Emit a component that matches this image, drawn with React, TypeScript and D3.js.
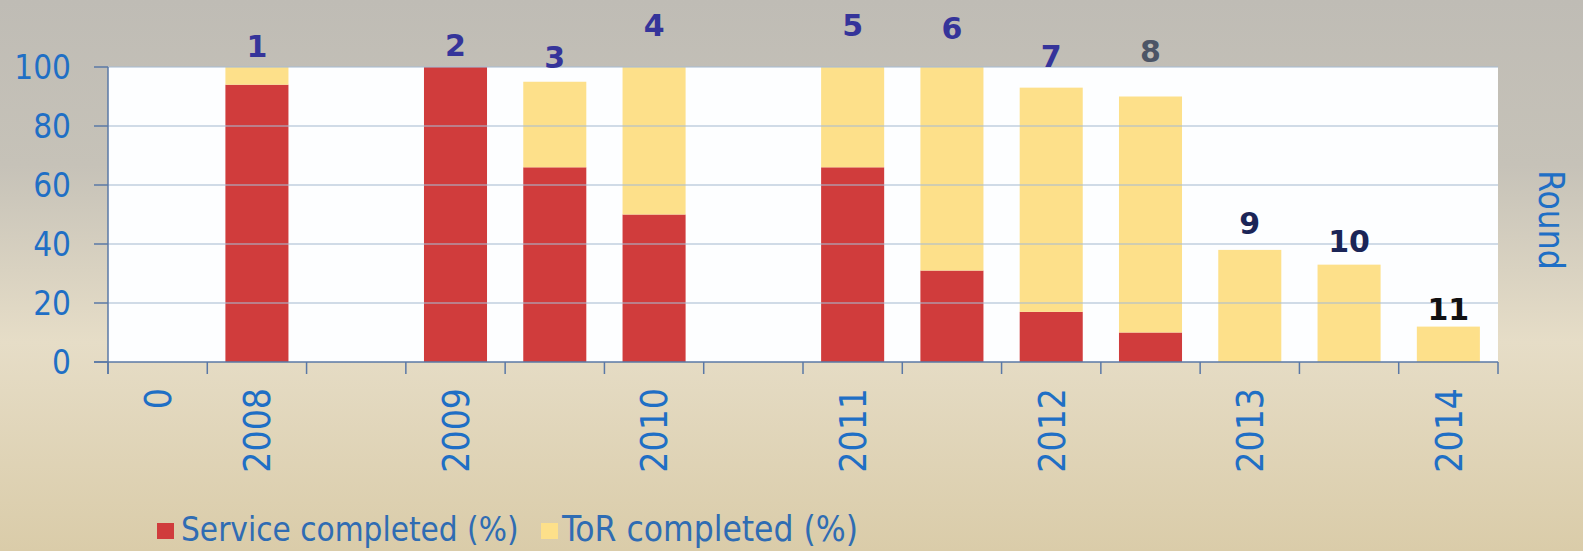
import React from "react";
import * as d3 from "d3";

const slotLabels = ["0", "2008", "", "2009", "", "2010", "", "2011", "", "2012", "", "2013", "", "2014"];
const serviceCompleted = [0, 94, 0, 100, 66, 50, 0, 66, 31, 17, 10, 0, 0, 0];
const torCompleted = [0, 6, 0, 0, 29, 50, 0, 34, 69, 76, 80, 38, 33, 12];
const roundNumbers = [null, 1, null, 2, 3, 4, null, 5, 6, 7, 8, 9, 10, 11];
const roundLevel = [null, 107, null, 107.5, 103.4, 114.2, null, 114.2, 113.2, 103.7, 105.4, 47.1, 41, 18];
const roundColors = [null, "#35349a", null, "#35349a", "#35349a", "#35349a", null, "#35349a", "#35349a", "#35349a", "#4c5566", "#1b2557", "#1b2557", "#111111"];
const yTicks = [0, 20, 40, 60, 80, 100];
const legendItems = ["Service completed (%)", "ToR completed (%)"];

const W = 1583;
const H = 551;
const RED = "#d03c3c";
const YELLOW = "#fde08a";
const AXIS = "#5a78a6";
const GRID = "#a9bdd3";
const BLUE = "#1f6fc5";
const FONT = "'DejaVu Sans Condensed', 'DejaVu Sans', sans-serif";

export default function App() {
  const idx = slotLabels.map((_, i) => i);
  const x = d3.scaleBand<number>().domain(idx).range([108, 1498]).paddingInner(0.365).paddingOuter(0.1825);
  const y = d3.scaleLinear().domain([0, 100]).range([362, 67]);
  const step = x.step();
  const x0 = 108;
  const stack = d3.stack<number>().keys(["s", "t"]).value((i, k) => (k === "s" ? serviceCompleted[i] : torCompleted[i]))(idx);
  const colors = [RED, YELLOW];

  return (
    <svg width={W} height={H} style={{ position: "fixed", left: 0, top: 0 }} fontFamily={FONT}>
      <defs>
        <linearGradient id="bg" x1="0" y1="0" x2="0" y2="1">
          <stop offset="0" stopColor="#bfbcb5" />
          <stop offset="0.3" stopColor="#c6c2b8" />
          <stop offset="0.62" stopColor="#e6ddc7" />
          <stop offset="1" stopColor="#dacca9" />
        </linearGradient>
      </defs>
      <rect x={0} y={0} width={W} height={H} fill="url(#bg)" />
      <rect x={108} y={y(100)} width={1390} height={y(0) - y(100)} fill="#fdfeff" />
      {stack.map((layer, li) =>
        layer.map((d, i) =>
          d[1] > d[0] ? (
            <rect key={`${li}-${i}`} x={x(i)} y={y(d[1])} width={x.bandwidth()} height={y(d[0]) - y(d[1])} fill={colors[li]} />
          ) : null
        )
      )}
      {yTicks.map((t) => (
        <g key={t}>
          {t > 0 && <line x1={108} x2={1498} y1={y(t)} y2={y(t)} stroke={GRID} strokeWidth={1.3} opacity={0.7} />}
          <line x1={94} x2={108} y1={y(t)} y2={y(t)} stroke={AXIS} strokeWidth={1.5} />
          <text x={71} y={y(t)} dy="0.36em" textAnchor="end" fontSize={33} fill={BLUE}>
            {t}
          </text>
        </g>
      ))}
      <line x1={108} x2={108} y1={y(100)} y2={y(0) + 12} stroke={AXIS} strokeWidth={1.5} />
      <line x1={94} x2={1498} y1={y(0)} y2={y(0)} stroke={AXIS} strokeWidth={1.5} />
      {d3.range(slotLabels.length + 1).map((i) => (
        <line key={i} x1={x0 + i * step} x2={x0 + i * step} y1={y(0)} y2={y(0) + 12} stroke={AXIS} strokeWidth={1.5} />
      ))}
      {slotLabels.map((l, i) =>
        l ? (
          <text
            key={i}
            transform={`translate(${(x(i) as number) + x.bandwidth() / 2},388) rotate(-90)`}
            textAnchor="end"
            dy="0.36em"
            fontSize={37}
            fill={BLUE}
          >
            {l}
          </text>
        ) : null
      )}
      {roundNumbers.map((r, i) =>
        r != null ? (
          <text
            key={i}
            x={(x(i) as number) + x.bandwidth() / 2}
            y={y(roundLevel[i] as number)}
            dy="0.36em"
            textAnchor="middle"
            fontFamily="'DejaVu Sans', sans-serif"
            fontWeight="bold"
            fontSize={30}
            fill={roundColors[i] as string}
          >
            {r}
          </text>
        ) : null
      )}
      <text transform="translate(1552,220) rotate(90)" textAnchor="middle" dy="0.36em" fontSize={35} fill={BLUE}>
        Round
      </text>
      <g>
        <rect x={157} y={523} width={17} height={16} fill={RED} />
        <text x={181} y={541} fontSize={33} fill="#2f6cb3">
          {legendItems[0]}
        </text>
        <rect x={541} y={523} width={17} height={16} fill={YELLOW} />
        <text x={562} y={541} fontSize={35} fill="#2f6cb3">
          {legendItems[1]}
        </text>
      </g>
    </svg>
  );
}
